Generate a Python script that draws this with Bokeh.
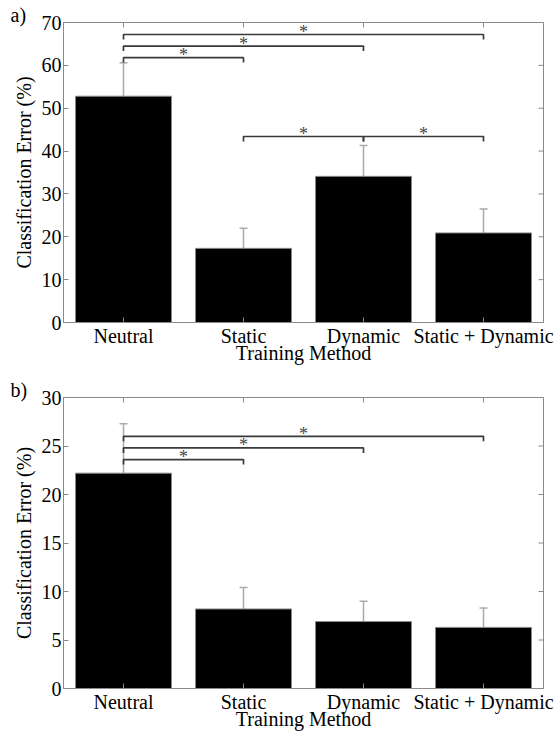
from bokeh.plotting import figure
from bokeh.models import (Range1d, FixedTicker, Whisker, TeeHead,
                          ColumnDataSource)
from bokeh.layouts import column
from bokeh.core.properties import value
from bokeh.embed import file_html
from bokeh.resources import INLINE

methods = ["Neutral", "Static", "Dynamic", "Static + Dynamic"]
positions = [1, 2, 3, 4]

err_a = [52.8, 17.3, 34.1, 20.9]
upper_a = [60.6, 22.0, 41.3, 26.5]
sig_pairs_a = [(1, 2), (1, 3), (1, 4), (2, 3), (3, 4)]
sig_levels_a = [61.8, 64.5, 67.2, 43.4, 43.4]
yticks_a = [0, 10, 20, 30, 40, 50, 60, 70]

err_b = [22.2, 8.2, 6.9, 6.3]
upper_b = [27.3, 10.4, 9.0, 8.3]
sig_pairs_b = [(1, 2), (1, 3), (1, 4)]
sig_levels_b = [23.6, 24.8, 26.0]
yticks_b = [0, 5, 10, 15, 20, 25, 30]

FONT = "Times New Roman"
GREY = "#8a8a8a"
W, H = 554, 366
XMIN, XMAX = 0.5, 4.5


def make_panel(tag, vals, uppers, pairs, levels, yticks, top_b, bot_b):
    ymax = yticks[-1]
    p = figure(width=W, height=H, output_backend="svg", toolbar_location=None,
               x_range=Range1d(XMIN, XMAX), y_range=Range1d(0, ymax),
               min_border_left=63, min_border_right=11,
               min_border_top=top_b, min_border_bottom=bot_b,
               background_fill_color="white", border_fill_color="white")
    p.grid.visible = False
    p.outline_line_color = GREY
    p.outline_line_width = 1

    frame_h = H - top_b - bot_b
    frame_w = W - 63 - 11
    upp = ymax / frame_h
    xpp = (XMAX - XMIN) / frame_w

    src = ColumnDataSource(dict(x=positions, top=vals, upper=uppers))
    p.vbar(x="x", top="top", width=0.8, source=src, fill_color="black",
           line_color=GREY, line_width=1)
    wh = Whisker(source=src, base="x", lower="top", upper="upper",
                 dimension="height", line_color="#aaaaaa", line_width=1.5,
                 lower_head=None,
                 upper_head=TeeHead(size=8, line_color="#aaaaaa", line_width=1.5))
    p.add_layout(wh)

    tick = 5
    p.segment(x0=positions, y0=[ymax] * 4, x1=positions,
              y1=[ymax - tick * upp] * 4, line_color=GREY, line_width=1)
    p.segment(x0=[XMAX] * len(yticks), y0=yticks,
              x1=[XMAX - tick * xpp] * len(yticks), y1=yticks,
              line_color=GREY, line_width=1)

    xs, ys, sx, sy = [], [], [], []
    dt = 5 * upp
    for (i, j), lv in zip(pairs, levels):
        xs.append([i, i, j, j])
        ys.append([lv - dt, lv, lv, lv - dt])
        sx.append((i + j) / 2)
        sy.append(lv + 2.5 * upp)
    p.multi_line(xs, ys, line_color="#3a3a3a", line_width=1.7)
    p.text(sx, sy, text=["*"] * len(sx), text_font=value(FONT),
           text_font_size="18px", text_color="#444444", text_align="center",
           text_baseline="alphabetic")

    xa = p.xaxis[0]
    xa.ticker = FixedTicker(ticks=positions)
    xa.major_label_overrides = {k: m for k, m in zip(positions, methods)}
    xa.axis_label = "Training Method"
    ya = p.yaxis[0]
    ya.ticker = FixedTicker(ticks=yticks)
    ya.axis_label = "Classification Error (%)"
    for ax in (xa, ya):
        ax.axis_line_color = GREY
        ax.major_tick_line_color = GREY
        ax.major_tick_in = 5
        ax.major_tick_out = 0
        ax.minor_tick_line_color = None
        ax.major_label_text_font = FONT
        ax.major_label_text_font_size = "20px"
        ax.major_label_text_color = "black"
        ax.axis_label_text_font = FONT
        ax.axis_label_text_font_size = "20px"
        ax.axis_label_text_font_style = "normal"
        ax.axis_label_text_color = "black"
    xa.major_label_standoff = 2
    xa.axis_label_standoff = -8
    ya.major_label_standoff = 2
    ya.axis_label_standoff = 4

    p.title.text = tag
    p.title.align = "left"
    p.title.offset = -53
    p.title.standoff = -6
    p.title.text_line_height = 0.6
    p.title.text_font = FONT
    p.title.text_font_size = "20px"
    p.title.text_font_style = "normal"
    p.title.text_color = "black"
    return p


pa = make_panel("a)", err_a, upper_a, sig_pairs_a, sig_levels_a, yticks_a, 22, 42)
pb = make_panel("b)", err_b, upper_b, sig_pairs_b, sig_levels_b, yticks_b, 31, 44)

layout = column(pa, pb, spacing=0)
open("out.html", "w").write(file_html(layout, INLINE))
